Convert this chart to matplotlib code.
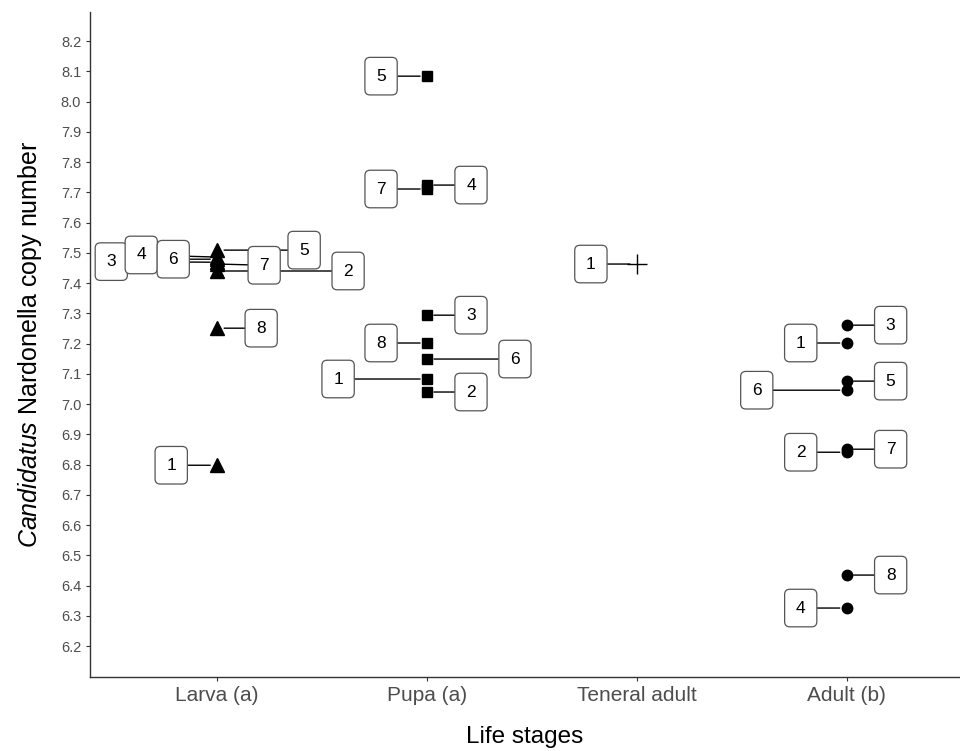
import numpy as np
import matplotlib.pyplot as plt

plt.rcParams['font.family'] = ['Liberation Sans', 'DejaVu Sans']
plt.rcParams['mathtext.fontset'] = 'custom'
plt.rcParams['mathtext.it'] = 'Liberation Sans:italic'
plt.rcParams['mathtext.rm'] = 'Liberation Sans'

# data
stages = ['Larva (a)', 'Pupa (a)', 'Teneral adult', 'Adult (b)']

larva_id = ['1', '2', '3', '4', '5', '6', '7', '8']
larva_val = [6.798, 7.440, 7.469, 7.486, 7.509, 7.479, 7.463, 7.251]

pupa_id = ['1', '2', '3', '4', '5', '6', '7', '8']
pupa_val = [7.083, 7.040, 7.294, 7.724, 8.084, 7.149, 7.711, 7.202]

teneral_id = ['1']
teneral_val = [7.463]

adult_id = ['1', '2', '3', '4', '5', '6', '7', '8']
adult_val = [7.202, 6.841, 7.261, 6.326, 7.076, 7.046, 6.851, 6.435]

# label positions (pixel x of box centre in the reference, then converted)
larva_lab_px = [171, 348, 111, 141, 304, 173, 264, 261]
pupa_lab_px = [338, 471, 471, 471, 381, 515, 381, 381]
teneral_lab_px = [591]
adult_lab_px = [801, 801, 891, 801, 891, 757, 891, 891]
# label y shifts (in data units) from the point
larva_lab_dy = [0, 0, 0.002, 0.007, 0, 0, -0.004, 0]
pupa_lab_dy = [0, 0, 0, 0, 0, 0, 0, 0]
teneral_lab_dy = [0]
adult_lab_dy = [0, 0, 0, 0, 0, 0, 0, 0]


def px_to_x(px):
    return (px - 217) / 210.0 + 1


fig = plt.figure(figsize=(9.6, 7.51), dpi=100)
ax = fig.add_axes([0.094, 0.0985, 0.906, 0.8855])

groups = [
    (1, larva_id, larva_val, larva_lab_px, larva_lab_dy, '^', 10),
    (2, pupa_id, pupa_val, pupa_lab_px, pupa_lab_dy, 's', 7.5),
    (3, teneral_id, teneral_val, teneral_lab_px, teneral_lab_dy, '+', 14),
    (4, adult_id, adult_val, adult_lab_px, adult_lab_dy, 'o', 7.5),
]

for xpos, ids, vals, lab_px, lab_dy, mk, ms in groups:
    xs = np.full(len(vals), xpos)
    if mk == '+':
        ax.plot(xs, vals, ls='none', marker=mk, ms=ms, mew=1.0, color='black', zorder=3)
    else:
        ax.plot(xs, vals, ls='none', marker=mk, ms=ms, color='black', zorder=3)
    for i, v in enumerate(vals):
        ax.annotate(ids[i], xy=(xpos, v), xytext=(px_to_x(lab_px[i]), v + lab_dy[i]),
                    textcoords='data', ha='center', va='center', fontsize=12.5,
                    bbox=dict(boxstyle='round,pad=0.65,rounding_size=0.3',
                              fc='white', ec='#555555', lw=0.9),
                    arrowprops=dict(arrowstyle='-', color='black', lw=1.0,
                                    shrinkA=0, shrinkB=5),
                    zorder=4)

ax.set_xlim(0.395, 4.54)
ax.set_ylim(6.098, 8.296)
ax.set_xticks([1, 2, 3, 4])
ax.set_xticklabels(stages, fontsize=15, color='#4d4d4d')
yt = np.round(np.arange(6.2, 8.21, 0.1), 1)
ax.set_yticks(yt)
ax.set_yticklabels(['%.1f' % t for t in yt], fontsize=10.5, color='#4d4d4d')
ax.tick_params(axis='both', color='#333333', length=3, width=0.8)

ax.spines['top'].set_visible(False)
ax.spines['right'].set_visible(False)
for s in ['left', 'bottom']:
    ax.spines[s].set_linewidth(1.0)
    ax.spines[s].set_color('#333333')

ax.set_xlabel('Life stages', fontsize=17.5, labelpad=15)
ax.set_ylabel(r'$\it{Candidatus}$ Nardonella copy number', fontsize=18, labelpad=12)

fig.savefig('out.png', dpi=100)
